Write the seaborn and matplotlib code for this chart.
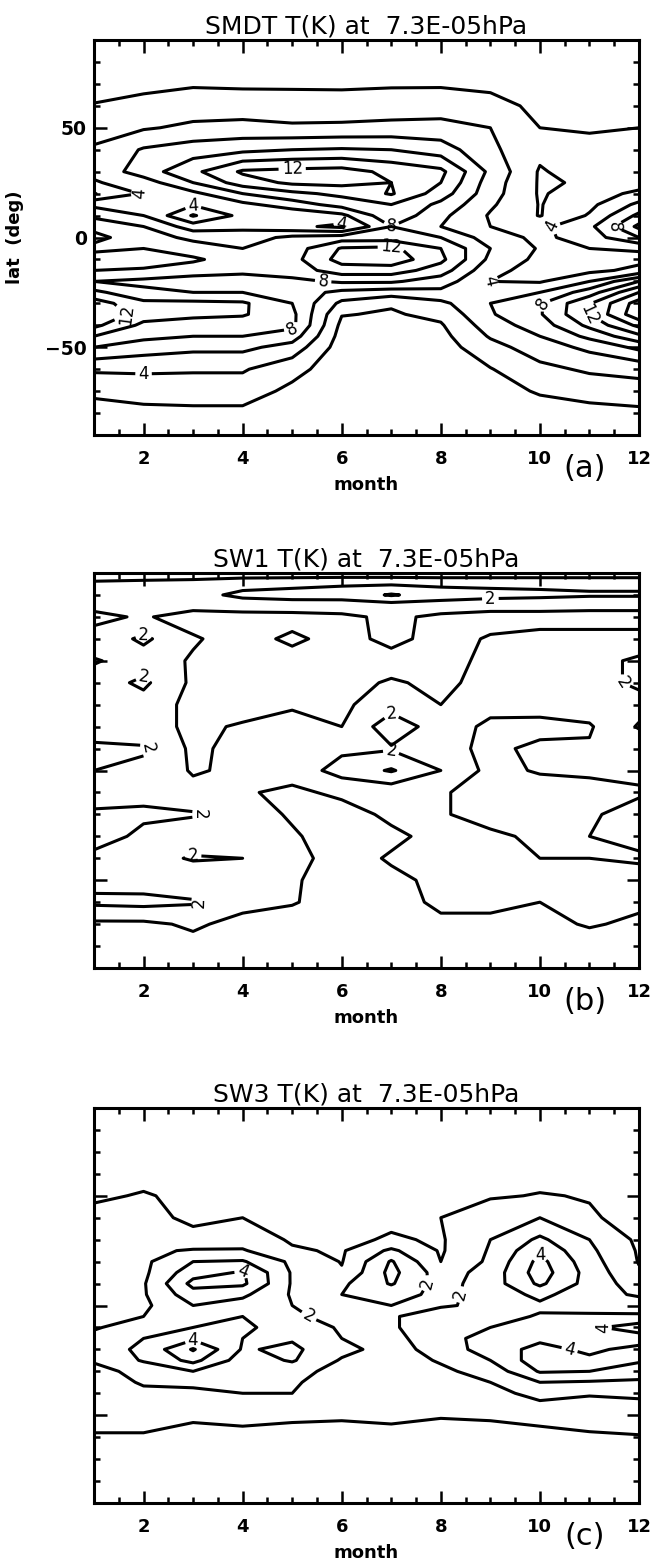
import numpy as np
import matplotlib
matplotlib.use("Agg")
import matplotlib.pyplot as plt
from matplotlib.ticker import MultipleLocator, FixedLocator
import seaborn as sns

sns.set_theme(style="ticks")
plt.rcParams["font.family"] = ["DejaVu Sans"]
plt.rcParams["text.color"] = "black"
plt.rcParams["axes.labelcolor"] = "black"
plt.rcParams["xtick.color"] = "black"
plt.rcParams["ytick.color"] = "black"
plt.rcParams["axes.edgecolor"] = "black"

# ---------------- data ----------------
months = [1, 2, 3, 4, 5, 6, 7, 8, 9, 10, 11, 12]
month_ticks = [2, 4, 6, 8, 10, 12]
lat_ticks = [-50, 0, 50]

# panel (a) SMDT : rows = latitude (north -> south), columns = month 1..12
lat_a = [90, 80, 70, 60, 50, 40, 30, 25, 20, 15, 10, 5, 0, -5, -10, -15,
         -20, -25, -30, -35, -40, -45, -50, -60, -70, -80, -90]
smdt = [
    [0.5, 0.5, 0.5, 0.5, 0.5, 0.5, 0.5, 0.5, 0.5, 0.5, 0.5, 0.5],
    [0.8, 0.9, 1.0, 1.0, 1.0, 1.0, 1.0, 1.0, 1.0, 0.8, 0.7, 0.7],
    [1.3, 1.5, 1.8, 1.7, 1.7, 1.7, 1.8, 1.8, 1.6, 1.3, 1.0, 1.0],
    [2.1, 2.6, 3.0, 3.0, 2.9, 2.8, 2.9, 3.0, 2.6, 1.6, 1.3, 1.4],
    [3.0, 3.8, 4.4, 4.6, 4.3, 4.4, 4.6, 4.7, 4.0, 2.0, 1.8, 2.0],
    [4.3, 6.2, 7.0, 7.5, 8.0, 8.2, 8.0, 7.0, 4.4, 2.5, 2.6, 2.4],
    [4.5, 7.0, 9.5, 12.3, 12.6, 12.8, 11.5, 10.5, 5.5, 1.8, 3.0, 2.8],
    [3.8, 5.0, 8.0, 11.0, 12.4, 12.6, 12.0, 10.0, 5.0, 1.8, 2.2, 3.0],
    [1.9, 4.2, 5.5, 8.0, 9.5, 10.5, 12.2, 9.0, 4.8, 1.8, 3.0, 4.5],
    [5.5, 4.6, 4.2, 5.5, 7.0, 8.8, 10.0, 7.5, 4.3, 1.9, 3.5, 6.5],
    [7.5, 6.0, 1.8, 4.6, 4.5, 5.5, 9.5, 6.5, 3.8, 1.9, 4.2, 8.5],
    [9.5, 8.0, 5.0, 5.5, 4.5, 3.5, 8.0, 6.0, 4.0, 3.5, 5.5, 10.5],
    [10.5, 9.0, 7.5, 7.0, 8.5, 9.0, 9.0, 8.0, 5.0, 3.5, 5.0, 8.0],
    [9.5, 10.0, 9.0, 8.0, 9.0, 12.2, 12.5, 10.0, 6.0, 3.8, 4.0, 4.2],
    [11.0, 10.8, 10.3, 9.0, 9.3, 12.8, 13.2, 10.5, 5.5, 3.5, 3.2, 3.5],
    [10.0, 9.8, 9.0, 8.5, 9.0, 11.0, 11.0, 9.0, 4.5, 3.3, 3.5, 4.5],
    [8.0, 7.5, 7.0, 7.0, 7.5, 8.3, 8.3, 7.0, 4.0, 3.8, 6.0, 10.0],
    [10.5, 8.5, 8.0, 8.0, 7.0, 5.5, 5.0, 5.5, 4.5, 6.0, 9.0, 14.0],
    [13.0, 10.5, 10.5, 10.3, 8.0, 3.5, 2.2, 3.5, 6.0, 7.8, 11.8, 17.0],
    [14.0, 11.0, 10.5, 10.2, 8.5, 2.1, 1.8, 2.5, 5.8, 7.8, 12.0, 17.5],
    [12.5, 9.5, 9.0, 9.0, 8.5, 1.5, 1.5, 1.8, 5.0, 7.0, 10.5, 14.5],
    [10.0, 8.5, 8.0, 8.0, 7.0, 1.2, 1.2, 1.4, 4.2, 6.0, 8.5, 11.5],
    [8.0, 7.0, 6.5, 6.5, 5.2, 1.0, 1.0, 1.1, 3.3, 5.0, 6.5, 8.5],
    [4.3, 4.3, 4.2, 4.2, 2.7, 0.8, 0.8, 0.8, 1.9, 3.5, 4.3, 4.6],
    [2.4, 2.9, 3.0, 3.0, 1.5, 0.6, 0.6, 0.6, 1.2, 2.2, 2.8, 3.2],
    [1.2, 1.4, 1.5, 1.5, 1.0, 0.5, 0.5, 0.5, 0.8, 1.1, 1.3, 1.5],
    [0.5, 0.5, 0.5, 0.5, 0.5, 0.5, 0.5, 0.5, 0.5, 0.5, 0.5, 0.5],
]

# panel (b) SW1
lat_b = [90, 85, 80, 75, 70, 60, 50, 40, 30, 20, 10, 0, -10, -20, -30,
         -40, -50, -60, -70, -80, -90]
sw1 = [
    [0.4, 0.4, 0.4, 0.4, 0.4, 0.4, 0.4, 0.4, 0.4, 0.4, 0.4, 0.4],
    [1.2, 1.3, 1.4, 1.7, 1.8, 1.9, 1.9, 1.8, 1.8, 1.8, 1.8, 1.8],
    [1.3, 1.4, 1.7, 2.2, 2.3, 2.4, 3.1, 2.5, 2.3, 2.2, 2.1, 2.1],
    [1.2, 1.2, 1.3, 1.5, 1.6, 1.5, 1.5, 1.5, 1.4, 1.4, 1.3, 1.3],
    [0.8, 1.1, 0.6, 0.6, 0.6, 0.8, 1.2, 0.8, 0.6, 0.6, 0.6, 0.6],
    [1.3, 2.2, 1.1, 0.6, 1.2, 0.6, 1.3, 0.6, 1.1, 1.3, 1.3, 1.3],
    [2.1, 1.5, 0.9, 0.6, 0.6, 0.5, 0.6, 0.7, 1.2, 1.4, 1.6, 2.2],
    [1.5, 2.2, 0.8, 0.6, 0.5, 0.7, 1.1, 0.8, 1.3, 1.4, 1.6, 2.2],
    [1.4, 1.6, 0.7, 0.6, 0.9, 0.8, 1.6, 1.0, 1.3, 1.4, 1.5, 1.6],
    [1.5, 1.4, 0.8, 1.1, 1.3, 1.0, 2.6, 1.5, 0.8, 0.7, 0.9, 2.1],
    [2.2, 2.1, 0.8, 1.3, 1.5, 1.8, 1.9, 1.3, 0.8, 1.2, 1.1, 1.2],
    [2.0, 1.8, 0.9, 1.2, 1.4, 2.4, 3.1, 2.0, 0.7, 1.1, 1.2, 1.2],
    [1.4, 1.5, 1.3, 1.1, 0.8, 1.2, 1.3, 1.1, 0.6, 0.5, 0.6, 0.9],
    [2.2, 2.3, 2.1, 1.4, 0.9, 0.6, 1.2, 1.1, 0.6, 0.6, 0.9, 1.3],
    [2.8, 1.6, 1.3, 1.2, 1.1, 0.6, 0.8, 1.3, 1.2, 0.8, 1.0, 1.2],
    [1.5, 1.6, 2.1, 2.0, 1.3, 0.6, 1.1, 1.3, 1.1, 1.0, 1.0, 0.9],
    [1.7, 1.5, 1.3, 1.2, 1.1, 0.6, 0.8, 1.2, 1.3, 1.3, 1.3, 1.3],
    [2.2, 2.3, 2.1, 1.3, 1.05, 0.7, 0.8, 1.1, 1.2, 1.0, 1.1, 1.2],
    [0.8, 0.8, 1.15, 0.7, 0.7, 0.6, 0.7, 0.9, 0.8, 0.7, 1.1, 0.8],
    [0.5, 0.5, 0.7, 0.5, 0.5, 0.6, 0.5, 0.5, 0.5, 0.5, 0.5, 0.5],
    [0.4, 0.4, 0.4, 0.4, 0.4, 0.4, 0.4, 0.4, 0.4, 0.4, 0.4, 0.4],
]

# panel (c) SW3
lat_c = [90, 80, 70, 60, 50, 40, 30, 25, 20, 15, 10, 5, 0, -5, -10, -15,
         -20, -25, -30, -35, -40, -50, -60, -70, -80, -90]
sw3 = [
    [0.2, 0.2, 0.2, 0.2, 0.2, 0.2, 0.2, 0.2, 0.2, 0.2, 0.2, 0.2],
    [0.3, 0.3, 0.3, 0.3, 0.3, 0.3, 0.3, 0.3, 0.3, 0.3, 0.3, 0.3],
    [0.4, 0.4, 0.4, 0.4, 0.4, 0.4, 0.4, 0.4, 0.4, 0.4, 0.4, 0.4],
    [0.5, 0.6, 0.5, 0.5, 0.5, 0.5, 0.5, 0.5, 0.6, 0.7, 0.6, 0.5],
    [0.8, 1.1, 0.7, 0.7, 0.6, 0.6, 0.6, 0.7, 0.9, 1.05, 0.95, 0.6],
    [1.4, 1.3, 0.8, 1.0, 0.8, 0.7, 0.8, 1.0, 1.6, 2.0, 1.1, 0.7],
    [1.5, 2.0, 1.3, 1.5, 0.9, 0.8, 1.1, 0.9, 2.0, 3.2, 2.0, 0.8],
    [1.6, 1.8, 2.1, 2.1, 1.1, 0.9, 2.2, 0.9, 2.1, 3.8, 2.2, 0.9],
    [1.7, 1.8, 3.0, 3.1, 1.8, 0.95, 3.1, 1.0, 2.2, 4.3, 2.4, 0.95],
    [1.6, 1.8, 3.6, 4.1, 1.9, 1.1, 3.3, 1.5, 2.4, 4.5, 2.6, 1.1],
    [1.5, 1.9, 4.3, 4.2, 1.9, 1.8, 3.1, 1.6, 2.5, 4.2, 2.6, 1.5],
    [1.6, 1.9, 3.6, 3.2, 1.9, 2.0, 2.3, 1.8, 2.3, 3.3, 2.3, 1.9],
    [1.4, 1.8, 3.0, 2.6, 2.0, 1.7, 2.0, 1.9, 2.2, 2.8, 2.5, 2.4],
    [1.7, 2.0, 2.8, 3.0, 2.1, 1.8, 1.9, 2.5, 2.6, 3.1, 3.2, 3.2],
    [1.9, 2.5, 3.0, 3.2, 2.5, 1.9, 1.8, 3.0, 3.0, 3.6, 3.8, 4.5],
    [2.3, 3.0, 3.8, 3.0, 2.9, 2.0, 1.7, 2.6, 3.4, 3.8, 3.6, 3.5],
    [2.5, 3.2, 5.1, 2.9, 3.2, 2.3, 1.6, 2.4, 3.5, 4.3, 3.8, 4.3],
    [2.1, 3.1, 4.3, 2.5, 3.1, 1.9, 1.5, 2.1, 3.0, 4.6, 4.2, 4.1],
    [1.7, 2.3, 3.0, 2.0, 2.4, 1.6, 1.9, 1.8, 2.4, 4.1, 4.0, 3.6],
    [1.5, 2.1, 2.1, 2.2, 2.1, 1.6, 2.0, 1.5, 2.0, 3.0, 2.9, 2.8],
    [1.4, 1.8, 1.9, 2.0, 2.0, 1.5, 1.6, 1.3, 1.6, 2.4, 2.1, 2.2],
    [1.2, 1.4, 1.1, 1.2, 1.1, 1.1, 1.2, 1.05, 1.1, 1.2, 1.3, 1.4],
    [0.95, 0.9, 0.8, 0.8, 0.8, 0.7, 0.7, 0.7, 0.7, 0.8, 0.9, 0.95],
    [0.5, 0.5, 0.5, 0.5, 0.5, 0.5, 0.5, 0.5, 0.5, 0.5, 0.5, 0.5],
    [0.3, 0.3, 0.3, 0.3, 0.3, 0.3, 0.3, 0.3, 0.3, 0.3, 0.3, 0.3],
    [0.2, 0.2, 0.2, 0.2, 0.2, 0.2, 0.2, 0.2, 0.2, 0.2, 0.2, 0.2],
]

titles = ["SMDT T(K) at  7.3E-05hPa", "SW1 T(K) at  7.3E-05hPa",
          "SW3 T(K) at  7.3E-05hPa"]
tags = ["(a)", "(b)", "(c)"]
levels_a = [2, 4, 6, 8, 10, 12, 14, 16, 18, 20]
labels_a = [4, 8, 12, 16, 20]
levels_bc = [1, 2, 3, 4, 5]
labels_bc = [2, 4]

# ---------------- figure ----------------
W, H = 652, 1566
fig = plt.figure(figsize=(W / 100, H / 100), dpi=100)
fig.patch.set_facecolor("white")

left_px, right_px = 94, 639
tops = [40, 573, 1108]
height_px = 395

panels = [
    (lat_a, smdt, levels_a, labels_a),
    (lat_b, sw1, levels_bc, labels_bc),
    (lat_c, sw3, levels_bc, labels_bc),
]

for i, (lat, vals, lev, lab) in enumerate(panels):
    top = tops[i]
    ax = fig.add_axes([left_px / W, 1 - (top + height_px) / H,
                       (right_px - left_px) / W, height_px / H])
    ax.set_facecolor("white")
    la = np.array(lat, dtype=float)[::-1]
    z = np.array(vals, dtype=float)[::-1, :]
    cs = ax.contour(months, la, z, levels=lev, colors="black",
                    linewidths=2.2)
    ax.clabel(cs, levels=[l for l in lab if l in cs.levels], fmt="%d",
              fontsize=12, inline=True, inline_spacing=3, colors="black")

    ax.set_xlim(1, 12)
    ax.set_ylim(-90, 90)
    ax.xaxis.set_major_locator(FixedLocator(month_ticks))
    ax.xaxis.set_minor_locator(MultipleLocator(0.5))
    ax.yaxis.set_major_locator(FixedLocator(lat_ticks))
    ax.yaxis.set_minor_locator(MultipleLocator(10))
    ax.tick_params(which="both", direction="in", top=True, right=True,
                   width=1.8, color="black", labelcolor="black")
    ax.tick_params(which="major", length=9)
    ax.tick_params(which="minor", length=4)
    ax.tick_params(axis="x", which="major", pad=11, labelsize=13)
    ax.tick_params(axis="y", which="major", pad=5, labelsize=13.5)
    for lbl in ax.get_xticklabels() + ax.get_yticklabels():
        lbl.set_fontweight("bold")
    if i != 0:
        ax.set_yticklabels([])
    else:
        ax.set_ylabel("lat  (deg)", fontsize=13, fontweight="bold",
                      color="black")
        ax.yaxis.set_label_coords(-0.128, 0.5)
    for sp in ax.spines.values():
        sp.set_linewidth(2.2)
        sp.set_color("black")
    ax.set_xlabel("month", fontsize=13, fontweight="bold", color="black")
    ax.xaxis.set_label_coords(0.5, -0.105)
    ax.set_title(titles[i], fontsize=18, pad=5, color="black")
    ax.text(0.90, -0.085, tags[i], transform=ax.transAxes, fontsize=22,
            ha="center", va="center", color="black")
    ax.grid(False)

fig.savefig("out.png", dpi=100, facecolor="white")
